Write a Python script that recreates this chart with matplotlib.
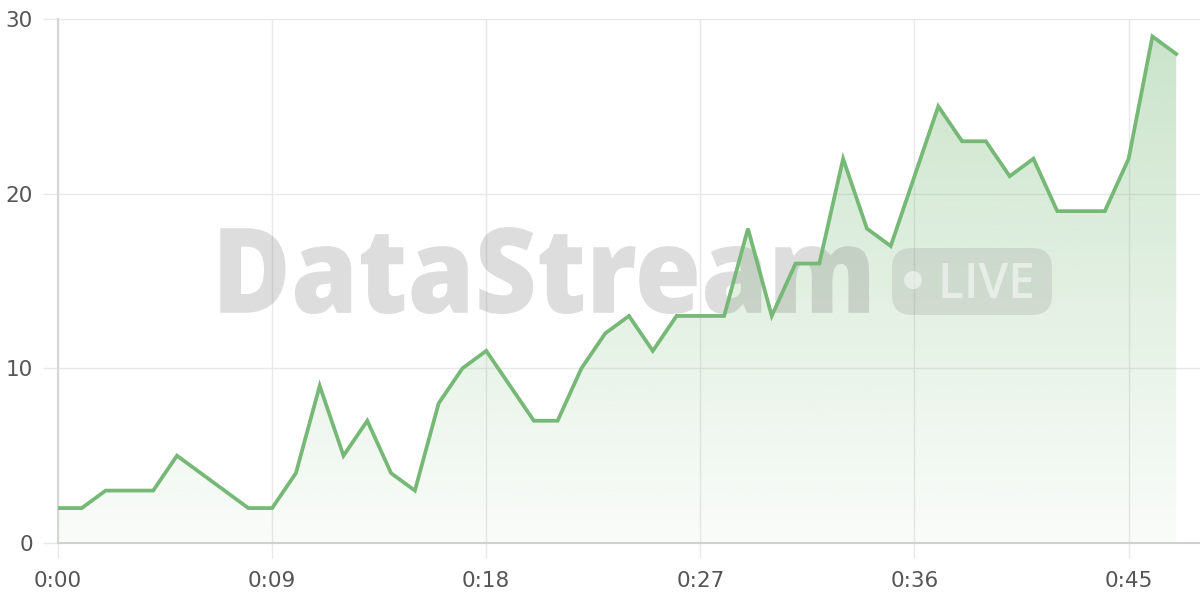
import numpy as np
import matplotlib
matplotlib.use("Agg")
import matplotlib.pyplot as plt
from matplotlib.textpath import TextPath
from matplotlib.font_manager import FontProperties
from matplotlib.patches import PathPatch, FancyBboxPatch, Circle
from matplotlib.transforms import IdentityTransform
from matplotlib.path import Path

# ---- data ----
minutes = list(range(48))
values = [2, 2, 3, 3, 3, 5, 4, 3, 2, 2,
          4, 9, 5, 7, 4, 3, 8, 10, 11, 9,
          7, 7, 10, 12, 13, 11, 13, 13, 13, 18,
          13, 16, 16, 22, 18, 17, 21, 25, 23, 23,
          21, 22, 19, 19, 19, 22, 29, 28]
xtick_pos = [0, 9, 18, 27, 36, 45]
xtick_labels = ["0:00", "0:09", "0:18", "0:27", "0:36", "0:45"]
ytick_pos = [0, 10, 20, 30]
ytick_labels = ["0", "10", "20", "30"]

W, H = 1200, 600
LINE = "#76b876"
GRID = "#e8e8e8"

fig = plt.figure(figsize=(12, 6), dpi=100)
ax = fig.add_axes([58 / W, 57 / H, (W - 58) / W, (543 - 19) / H])
ax.set_xlim(0, 48)
ax.set_ylim(0, 30)

# gradient fill
x = np.array(minutes)
y = np.array(values)
poly = ax.fill_between(x, y, 0, facecolor="none", edgecolor="none")
n = 256
alpha = np.linspace(0.04, 0.40, n)
rgba = np.zeros((n, 1, 4))
rgba[..., 0] = 0x78 / 255
rgba[..., 1] = 0xb9 / 255
rgba[..., 2] = 0x78 / 255
rgba[:, 0, 3] = alpha
im = ax.imshow(rgba, extent=[0, 47, 0, 30], origin="lower", aspect="auto",
               zorder=1, interpolation="bilinear")
im.set_clip_path(poly.get_paths()[0], transform=ax.transData)
ax.set_xlim(0, 48)
ax.set_ylim(0, 30)

ax.plot(x, y, color=LINE, lw=2.7, zorder=4, solid_joinstyle="miter")

# axes styling
ax.set_axisbelow(True)
ax.grid(True, color=GRID, lw=1)
for s in ["top", "right"]:
    ax.spines[s].set_visible(False)
ax.spines["left"].set_color("#d6d6d6")
ax.spines["left"].set_linewidth(1.5)
ax.spines["bottom"].set_color("#d0d0d0")
ax.spines["bottom"].set_linewidth(1.5)
ax.set_xticks(xtick_pos)
ax.set_xticklabels(xtick_labels)
ax.set_yticks(ytick_pos)
ax.set_yticklabels(ytick_labels)
ax.tick_params(axis="both", length=11, width=1, color=GRID, labelcolor="#555555",
               labelsize=15.5)
ax.tick_params(axis="x", pad=9)
ax.tick_params(axis="y", pad=7)

# ---- watermark (display pixel coordinates) ----
def fit_path(text, fp, x0, x1, ytop, ybot):
    tp = TextPath((0, 0), text, size=100, prop=fp)
    v = tp.vertices.copy()
    bx0, by0 = v[:, 0].min(), v[:, 1].min()
    bx1, by1 = v[:, 0].max(), v[:, 1].max()
    sx = (x1 - x0) / (bx1 - bx0)
    sy = (ybot - ytop) / (by1 - by0)
    v[:, 0] = x0 + (v[:, 0] - bx0) * sx
    v[:, 1] = (H - ybot) + (v[:, 1] - by0) * sy
    return Path(v, tp.codes)

fp_bold = FontProperties(family=["Open Sans", "Roboto"], weight=800)
p = fit_path("DataStream", fp_bold, 212, 869, 227, 314)
ax.add_patch(PathPatch(p, facecolor=(0.45, 0.45, 0.45), alpha=0.24, lw=0,
                       transform=IdentityTransform(), zorder=2, clip_on=False))

pill = FancyBboxPatch((892, H - 315), 160, 67,
                      boxstyle="round,pad=0,rounding_size=20",
                      facecolor=(0.45, 0.45, 0.45), alpha=0.17, lw=0,
                      transform=IdentityTransform(), zorder=2, clip_on=False)
ax.add_patch(pill)
ax.add_patch(Circle((913, H - 280), 9, facecolor="white", alpha=0.5, lw=0,
                    transform=IdentityTransform(), zorder=2.5, clip_on=False))
fp_live = FontProperties(family=["Open Sans", "Roboto"], weight="semibold")
p2 = fit_path("LIVE", fp_live, 938, 1032, 263, 298)
ax.add_patch(PathPatch(p2, facecolor="white", alpha=0.5, lw=0,
                       transform=IdentityTransform(), zorder=2.5, clip_on=False))

fig.savefig("out.png", dpi=100)
